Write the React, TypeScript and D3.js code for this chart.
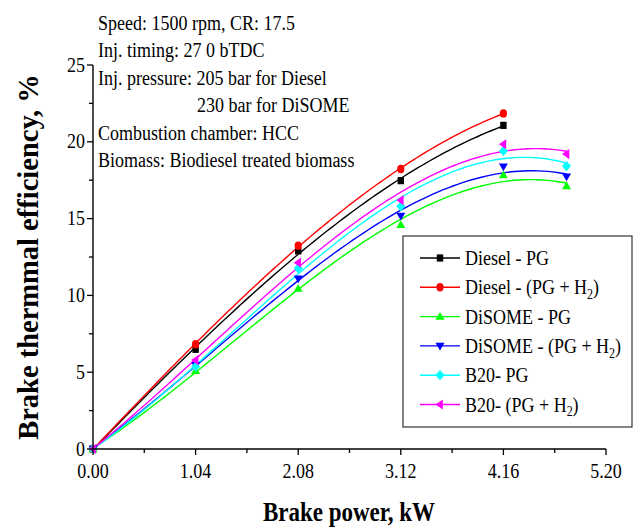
import React from "react";
import * as d3 from "d3";

const xVals = [0, 1.04, 2.08, 3.12, 4.16, 4.8];
const dieselPG = [0, 6.49, 12.9, 17.47, 21.07];
const dieselPGH2 = [0, 6.82, 13.24, 18.23, 21.85];
const disomePG = [0, 5.1, 10.44, 14.6, 17.84, 17.12];
const disomePGH2 = [0, 5.45, 11.09, 15.17, 18.38, 17.73];
const b20PG = [0, 5.36, 11.76, 15.8, 19.4, 18.42];
const b20PGH2 = [0, 5.79, 12.13, 16.2, 19.84, 19.2];

const xTicks = [0, 1.04, 2.08, 3.12, 4.16, 5.2];
const yTicks = [0, 5, 10, 15, 20, 25];

const notes = [
  { text: "Speed: 1500 rpm, CR: 17.5", indent: false },
  { text: "Inj. timing: 27 0 bTDC", indent: false },
  { text: "Inj. pressure: 205 bar for Diesel", indent: false },
  { text: "230 bar for DiSOME", indent: true },
  { text: "Combustion chamber: HCC", indent: false },
  { text: "Biomass: Biodiesel treated biomass", indent: false },
];

type Series = { name: string; sub: string; tail: string; color: string; marker: string; ys: number[] };
const series: Series[] = [
  { name: "Diesel - PG", sub: "", tail: "", color: "#000000", marker: "square", ys: dieselPG },
  { name: "Diesel - (PG + H", sub: "2", tail: ")", color: "#ff0000", marker: "circle", ys: dieselPGH2 },
  { name: "DiSOME - PG", sub: "", tail: "", color: "#00ff00", marker: "tri", ys: disomePG },
  { name: "DiSOME - (PG + H", sub: "2", tail: ")", color: "#0000ff", marker: "tridown", ys: disomePGH2 },
  { name: "B20- PG", sub: "", tail: "", color: "#00ffff", marker: "diamond", ys: b20PG },
  { name: "B20- (PG + H", sub: "2", tail: ")", color: "#ff00ff", marker: "trileft", ys: b20PGH2 },
];

function cubicFit(xs: number[], ys: number[]) {
  const deg = 3;
  const n = deg + 1;
  const A: number[][] = [];
  for (let i = 0; i < n; i++) {
    A.push(new Array(n + 1).fill(0));
  }
  for (let k = 0; k < xs.length; k++) {
    for (let i = 0; i < n; i++) {
      for (let j = 0; j < n; j++) A[i][j] += Math.pow(xs[k], i + j);
      A[i][n] += ys[k] * Math.pow(xs[k], i);
    }
  }
  for (let i = 0; i < n; i++) {
    let p = i;
    for (let r = i + 1; r < n; r++) if (Math.abs(A[r][i]) > Math.abs(A[p][i])) p = r;
    [A[i], A[p]] = [A[p], A[i]];
    for (let r = 0; r < n; r++) {
      if (r === i) continue;
      const f = A[r][i] / A[i][i];
      for (let c = i; c <= n; c++) A[r][c] -= f * A[i][c];
    }
  }
  const coef = A.map((row, i) => row[n] / row[i]);
  return (x: number) => coef.reduce((s, c, i) => s + c * Math.pow(x, i), 0);
}

const FONT = "'Liberation Serif', 'Times New Roman', serif";
const SY = 1.2;

function Marker({ type, cx, cy, color }: { type: string; cx: number; cy: number; color: string }) {
  const s = 4;
  const h = 4.6;
  if (type === "square") return <rect x={cx - 3.2} y={cy - 3.6} width={6.4} height={7.2} fill={color} />;
  if (type === "circle") return <ellipse cx={cx} cy={cy} rx={3.6} ry={4.2} fill={color} />;
  let pts: number[][] = [];
  if (type === "tri") pts = [[cx, cy - h], [cx + s + 0.5, cy + h * 0.7], [cx - s - 0.5, cy + h * 0.7]];
  if (type === "tridown") pts = [[cx, cy + h], [cx + s + 0.5, cy - h * 0.7], [cx - s - 0.5, cy - h * 0.7]];
  if (type === "diamond") pts = [[cx, cy - h - 0.5], [cx + s + 0.5, cy], [cx, cy + h + 0.5], [cx - s - 0.5, cy]];
  if (type === "trileft") pts = [[cx - s - 0.5, cy], [cx + s * 0.7, cy - h - 0.5], [cx + s * 0.7, cy + h + 0.5]];
  return <polygon points={pts.map((p) => p.join(",")).join(" ")} fill={color} />;
}

export default function App() {
  const x = d3.scaleLinear().domain([0, 5.2]).range([93, 606]);
  const y = d3.scaleLinear().domain([0, 25]).range([449, 65]);
  const x0 = x(0);
  const y0 = y(0);
  const xMinor = d3.range(0, 10.5).map((i) => i * 0.52);
  const yMinor = d3.range(0, 11).map((i) => i * 2.5);

  const line = d3
    .line<[number, number]>()
    .x((d) => x(d[0]))
    .y((d) => y(d[1]))
    .curve(d3.curveLinear);

  const txt = (tx: number, ty: number) => `translate(${tx},${ty}) scale(1,${SY})`;

  const legX = 403;
  const legY = 236;
  const legW = 229;
  const legH = 191;
  const rowY = (i: number) => 258 + i * 29.3;

  return (
    <svg
      width={633}
      height={528}
      style={{ position: "absolute", left: 0, top: 0, background: "#fff" }}
      fontFamily={FONT}
    >
      <rect x={0} y={0} width={633} height={528} fill="#fff" />
      {series.map((s) => {
        const xs = xVals.slice(0, s.ys.length);
        const f = cubicFit(xs, s.ys);
        const xmax = xs[xs.length - 1];
        const pts: [number, number][] = d3.range(0, 101).map((i) => {
          const xv = (xmax * i) / 100;
          return [xv, f(xv)];
        });
        return <path key={s.name + s.color} d={line(pts) || ""} fill="none" stroke={s.color} strokeWidth={1.4} />;
      })}
      {series.map((s) =>
        s.ys.map((v, i) => (
          <Marker key={s.color + i} type={s.marker} cx={x(xVals[i])} cy={y(v)} color={s.color} />
        ))
      )}
      <line x1={x0} y1={y0} x2={x(5.2)} y2={y0} stroke="#000" strokeWidth={1.4} />
      <line x1={x0} y1={y0} x2={x0} y2={y(25)} stroke="#000" strokeWidth={1.4} />
      {xMinor.map((v, i) => (
        <line key={"xm" + i} x1={x(v)} x2={x(v)} y1={y0} y2={y0 + (i % 2 === 0 ? 6 : 4)} stroke="#000" strokeWidth={1.3} />
      ))}
      {yMinor.map((v, i) => (
        <line key={"ym" + i} x1={x0} x2={x0 - (i % 2 === 0 ? 6 : 4)} y1={y(v)} y2={y(v)} stroke="#000" strokeWidth={1.3} />
      ))}
      {xTicks.map((v) => (
        <text key={"xt" + v} transform={txt(x(v), 478)} textAnchor="middle" fontSize={18}>
          {v.toFixed(2)}
        </text>
      ))}
      {yTicks.map((v) => (
        <text key={"yt" + v} transform={txt(x0 - 8, y(v) + 6.5)} textAnchor="end" fontSize={18}>
          {v}
        </text>
      ))}
      <text transform={txt(349, 521)} textAnchor="middle" fontSize={23} fontWeight="bold">
        Brake power, kW
      </text>
      <text
        transform={`translate(38,${(y(0) + y(25)) / 2}) rotate(-90)`}
        textAnchor="middle"
        fontSize={28.5}
        fontWeight="bold"
      >
        Brake thermmal efficiency, %
      </text>
      {notes.map((n, i) => (
        <text key={"n" + i} transform={txt(n.indent ? 197 : 98, 30 + i * 27.4)} fontSize={18}>
          {n.text}
        </text>
      ))}
      <rect x={legX} y={legY} width={legW} height={legH} fill="#fff" stroke="#333" strokeWidth={1.2} />
      {series.map((s, i) => (
        <g key={"lg" + i}>
          <line x1={420} x2={460} y1={rowY(i)} y2={rowY(i)} stroke={s.color} strokeWidth={1.4} />
          <Marker type={s.marker} cx={440} cy={rowY(i)} color={s.color} />
          <text transform={txt(465, rowY(i) + 7)} fontSize={18}>
            {s.name}
            {s.sub && (
              <tspan fontSize={12} dy={4}>
                {s.sub}
              </tspan>
            )}
            {s.tail && <tspan dy={s.sub ? -4 : 0}>{s.tail}</tspan>}
          </text>
        </g>
      ))}
    </svg>
  );
}
